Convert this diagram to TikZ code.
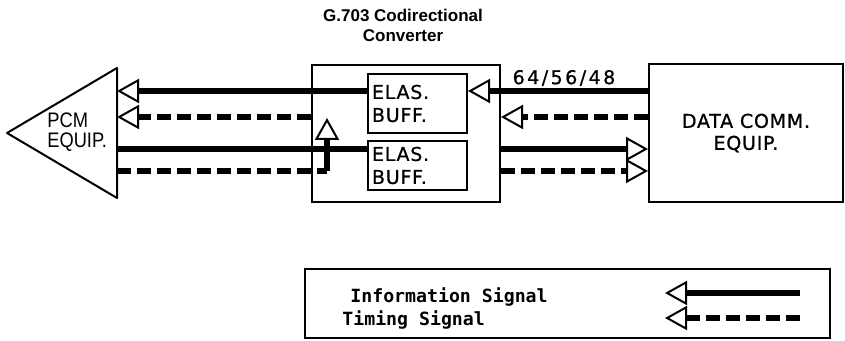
\documentclass[tikz,border=0pt]{standalone}
\usepackage{fontspec}
\setmainfont{Liberation Sans}
\newfontfamily\plotfont[LetterSpace=4, FakeBold=0.8]{DejaVu Sans}
\newfontfamily\ratefont[LetterSpace=13, FakeBold=0.8]{DejaVu Sans}
\newfontfamily\pcmfont[FakeStretch=0.87]{Liberation Sans}
\newfontfamily\legfont{DejaVu Sans Mono}
\usetikzlibrary{arrows.meta,positioning}

\begin{document}
\begin{tikzpicture}[
  x=0.5pt, y=-0.5pt,
  box/.style={
    draw=black,
    line width=1pt,
    inner sep=0pt
  },
  elas/.style={box, text width=45.5pt, inner xsep=2pt, align=left,
    font=\plotfont\fontsize{9.5}{11.5}\selectfont},
  info/.style={line width=3.2pt},
  timing/.style={line width=3.2pt, dash pattern=on 7pt off 3pt},
  sig/.style={-{Triangle[length=11pt, width=12pt, line width=1pt, fill=white]}}
]
\useasboundingbox (0,0) rectangle (845,341);

% boxes
\node[box, minimum width=94pt, minimum height=68.5pt] (conv) at (406,133.5) {};
\node[elas, minimum height=29.5pt] (ebuf1) at (417.5,103.5) {ELAS.\\BUFF.};
\node[elas, minimum height=24.5pt] (ebuf2) at (417.5,165.5) {ELAS.\\BUFF.};
\node[box, minimum width=97pt, minimum height=69pt, align=center,
  font=\plotfont\fontsize{9.5}{11}\selectfont] (dce) at (746,133) {DATA COMM.\\EQUIP.};
\node[align=center, font=\bfseries\fontsize{8.5}{10}\selectfont] (title) at (403,25)
  {G.703 Codirectional\\Converter};
\node[font=\ratefont\fontsize{9.5}{10}\selectfont] (rate) at (564,78) {64/56/48};

% PCM equipment
\draw[line width=1pt, line join=round] (7,133) -- (117,68) -- (117,198) -- cycle;
\node[anchor=west, align=left, inner sep=0pt,
  font=\pcmfont\fontsize{10.5}{10}\selectfont] (pcm) at (47,132) {PCM\\EQUIP.};
\coordinate (pcmedge) at (117,133);

% signal rows
\coordinate (infoTop) at (0,91);
\coordinate (timeTop) at (0,117);
\coordinate (infoBot) at (0,149);
\coordinate (timeBot) at (0,171);
\coordinate (clk) at (327,118);

\draw[info, sig] (ebuf1.west |- infoTop) -- (pcmedge |- infoTop);
\draw[info, sig] (dce.west |- infoTop) -- (ebuf1.east |- infoTop);
\draw[timing, sig] (conv.west |- timeTop) -- (pcmedge |- timeTop);
\draw[timing, sig] (dce.west |- timeTop) -- (conv.east |- timeTop);
\draw[info] (pcmedge |- infoBot) -- (ebuf2.west |- infoBot);
\draw[info, sig] (conv.east |- infoBot) -- (dce.west |- infoBot);
\draw[timing] (pcmedge |- timeBot) -- (clk |- timeBot);
\draw[info, sig] (clk |- timeBot) -- (clk);
\draw[timing, sig] (conv.east |- timeBot) -- (dce.west |- timeBot);

% legend
\node[box, minimum width=262.5pt, minimum height=34.5pt] (legend) at (567.5,303.5) {};
\node[anchor=west, inner sep=0pt, font=\legfont\bfseries\fontsize{9.1}{10}\selectfont]
  (infotext) at (350,297) {Information Signal};
\node[anchor=west, inner sep=0pt, font=\legfont\bfseries\fontsize{9.1}{10}\selectfont]
  (timetext) at (342,320) {Timing Signal};
\coordinate (legInfoR) at (800,293);
\coordinate (legInfoL) at (665,293);
\coordinate (legTimeR) at (800,318);
\coordinate (legTimeL) at (665,318);
\draw[info, sig] (legInfoR) -- (legInfoL);
\draw[timing, sig] (legTimeR) -- (legTimeL);

\end{tikzpicture}
\end{document}
